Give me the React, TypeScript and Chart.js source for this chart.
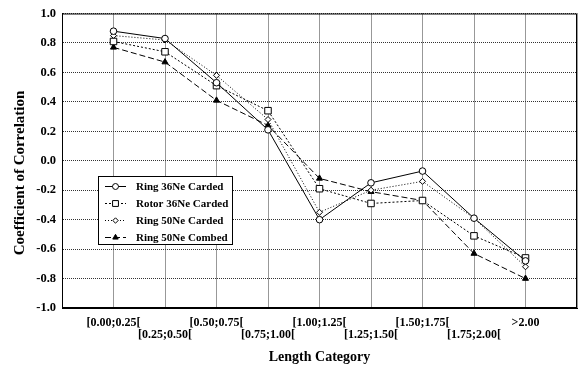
import React, { useEffect, useRef } from 'react';
import { Chart, registerables } from 'chart.js';

Chart.register(...registerables);

const categories = [
  '[0.00;0.25[',
  '[0.25;0.50[',
  '[0.50;0.75[',
  '[0.75;1.00[',
  '[1.00;1.25[',
  '[1.25;1.50[',
  '[1.50;1.75[',
  '[1.75;2.00[',
  '>2.00',
];
const ring36Carded = [0.88, 0.83, 0.53, 0.21, -0.4, -0.15, -0.07, -0.39, -0.68];
const rotor36Carded = [0.81, 0.74, 0.51, 0.34, -0.19, -0.29, -0.27, -0.51, -0.66];
const ring50Carded = [0.85, 0.82, 0.58, 0.28, -0.35, -0.2, -0.14, -0.39, -0.72];
const ring50Combed = [0.77, 0.67, 0.41, 0.24, -0.12, -0.21, -0.27, -0.63, -0.8];
const seriesNames = ['Ring 36Ne Carded', 'Rotor 36Ne Carded', 'Ring 50Ne Carded', 'Ring 50Ne Combed'];
const yTitle = 'Coefficient of Correlation';
const xTitle = 'Length Category';

const FONT = '"Liberation Serif", "Times New Roman", serif';

const toPoints = (vals: number[]) => vals.map((v, i) => ({ x: i, y: v }));

function drawMarker(ctx: CanvasRenderingContext2D, style: string, x: number, y: number, r: number, fill: string) {
  ctx.save();
  ctx.setLineDash([]);
  ctx.lineWidth = 1;
  ctx.strokeStyle = '#000';
  ctx.fillStyle = fill;
  ctx.beginPath();
  if (style === 'circle') {
    ctx.arc(x, y, r, 0, Math.PI * 2);
  } else if (style === 'rect') {
    const h = r * Math.SQRT1_2;
    ctx.rect(x - h, y - h, 2 * h, 2 * h);
  } else if (style === 'rectRot') {
    ctx.moveTo(x, y - r);
    ctx.lineTo(x + r, y);
    ctx.lineTo(x, y + r);
    ctx.lineTo(x - r, y);
    ctx.closePath();
  } else if (style === 'triangle') {
    ctx.moveTo(x, y - r);
    ctx.lineTo(x + r * 0.866, y + r * 0.5);
    ctx.lineTo(x - r * 0.866, y + r * 0.5);
    ctx.closePath();
  }
  ctx.fill();
  ctx.stroke();
  ctx.restore();
}

const frameAndLegend = {
  id: 'frameAndLegend',
  afterDraw(chart: any) {
    const { ctx, chartArea } = chart;
    ctx.save();
    ctx.strokeStyle = '#000';
    ctx.lineWidth = 1;
    ctx.setLineDash([]);
    ctx.strokeRect(chartArea.left + 0.5, chartArea.top + 0.5, chartArea.right - chartArea.left - 1, chartArea.bottom - chartArea.top - 1);

    // y axis title
    ctx.save();
    ctx.translate(20, 173);
    ctx.rotate(-Math.PI / 2);
    ctx.fillStyle = '#000';
    ctx.font = `bold 15px ${FONT}`;
    ctx.textAlign = 'center';
    ctx.textBaseline = 'middle';
    ctx.fillText(yTitle, 0, 0);
    ctx.restore();

    // legend box
    const bx = 98, by = 176, bw = 134, bh = 68;
    ctx.fillStyle = '#fff';
    ctx.fillRect(bx, by, bw, bh);
    ctx.strokeRect(bx + 0.5, by + 0.5, bw, bh);
    chart.data.datasets.forEach((ds: any, i: number) => {
      const y = by + 10 + i * 17;
      ctx.save();
      ctx.strokeStyle = '#000';
      ctx.lineWidth = 1;
      ctx.setLineDash(ds.borderDash || []);
      ctx.beginPath();
      ctx.moveTo(105, y + 0.5);
      ctx.lineTo(126, y + 0.5);
      ctx.stroke();
      ctx.restore();
      drawMarker(ctx, ds.pointStyle, 115.5, y + 0.5, ds.pointRadius * 0.9, ds.pointBackgroundColor);
      ctx.fillStyle = '#000';
      ctx.font = `bold 11px ${FONT}`;
      ctx.textBaseline = 'middle';
      ctx.textAlign = 'left';
      ctx.fillText(ds.label, 136, y + 1);
    });
    ctx.restore();
  },
};

export default function App() {
  const ref = useRef<HTMLCanvasElement>(null);
  useEffect(() => {
    if (!ref.current) return;
    const chart = new Chart(ref.current, {
      type: 'line',
      data: {
        datasets: [
          {
            label: seriesNames[0],
            data: toPoints(ring36Carded),
            borderColor: '#000',
            borderWidth: 1,
            pointStyle: 'circle',
            pointRadius: 3.3,
            pointBackgroundColor: '#fff',
            pointBorderColor: '#000',
            pointBorderWidth: 1,
          },
          {
            label: seriesNames[1],
            data: toPoints(rotor36Carded),
            borderColor: '#000',
            borderWidth: 1,
            borderDash: [2, 2],
            pointStyle: 'rect',
            pointRadius: 4.6,
            pointBackgroundColor: '#fff',
            pointBorderColor: '#000',
            pointBorderWidth: 1,
          },
          {
            label: seriesNames[2],
            data: toPoints(ring50Carded),
            borderColor: '#000',
            borderWidth: 1,
            borderDash: [1, 2],
            pointStyle: 'rectRot',
            pointRadius: 3,
            pointBackgroundColor: '#fff',
            pointBorderColor: '#000',
            pointBorderWidth: 1,
          },
          {
            label: seriesNames[3],
            data: toPoints(ring50Combed),
            borderColor: '#000',
            borderWidth: 1,
            borderDash: [6, 3],
            pointStyle: 'triangle',
            pointRadius: 3.5,
            pointBackgroundColor: '#000',
            pointBorderColor: '#000',
            pointBorderWidth: 1,
          },
        ],
      },
      options: {
        responsive: false,
        animation: false,
        devicePixelRatio: 1,
        layout: { padding: { left: 0, right: 2, top: 12, bottom: 0 } },
        plugins: {
          legend: { display: false },
          tooltip: { enabled: false },
        },
        scales: {
          x: {
            type: 'linear',
            min: -1,
            max: 9,
            afterFit: (s: any) => { s.height = 61; },
            grid: {
              color: '#333',
              lineWidth: 1,
              tickLength: 0,
            },
            border: { display: true, color: '#000', dash: [1, 1] },
            ticks: {
              stepSize: 1,
              autoSkip: false,
              maxRotation: 0,
              padding: 9,
              color: '#000',
              font: { family: FONT, size: 12, weight: 'bold', lineHeight: 1.0 },
              callback: (v: any) => {
                const i = Math.round(Number(v));
                if (i < 0 || i >= categories.length) return '';
                return i % 2 === 0 ? [categories[i], ''] : ['', categories[i]];
              },
            },
            title: {
              display: true,
              text: xTitle,
              color: '#000',
              font: { family: FONT, size: 14, weight: 'bold', lineHeight: 1.2 },
              padding: { top: 0, bottom: 3 },
            },
          },
          y: {
            min: -1,
            max: 1,
            afterFit: (s: any) => { s.width = 62; },
            grid: { color: '#333', lineWidth: 1, tickLength: 0 },
            border: { display: true, color: '#000', dash: [1, 1] },
            ticks: {
              stepSize: 0.2,
              padding: 6,
              color: '#000',
              font: { family: FONT, size: 12.5, weight: 'bold' },
              callback: (v: any) => {
                const n = Number(v);
                return Math.abs(n) < 1e-9 ? '0.0' : n.toFixed(1);
              },
            },
            title: { display: false },
          },
        },
      } as any,
      plugins: [frameAndLegend],
    });
    return () => chart.destroy();
  }, []);
  return (
    <div style={{ position: 'fixed', left: 0, top: 0, width: 586, height: 369, background: '#fff' }}>
      <canvas ref={ref} width={586} height={369} style={{ width: 586, height: 369 }} />
    </div>
  );
}
